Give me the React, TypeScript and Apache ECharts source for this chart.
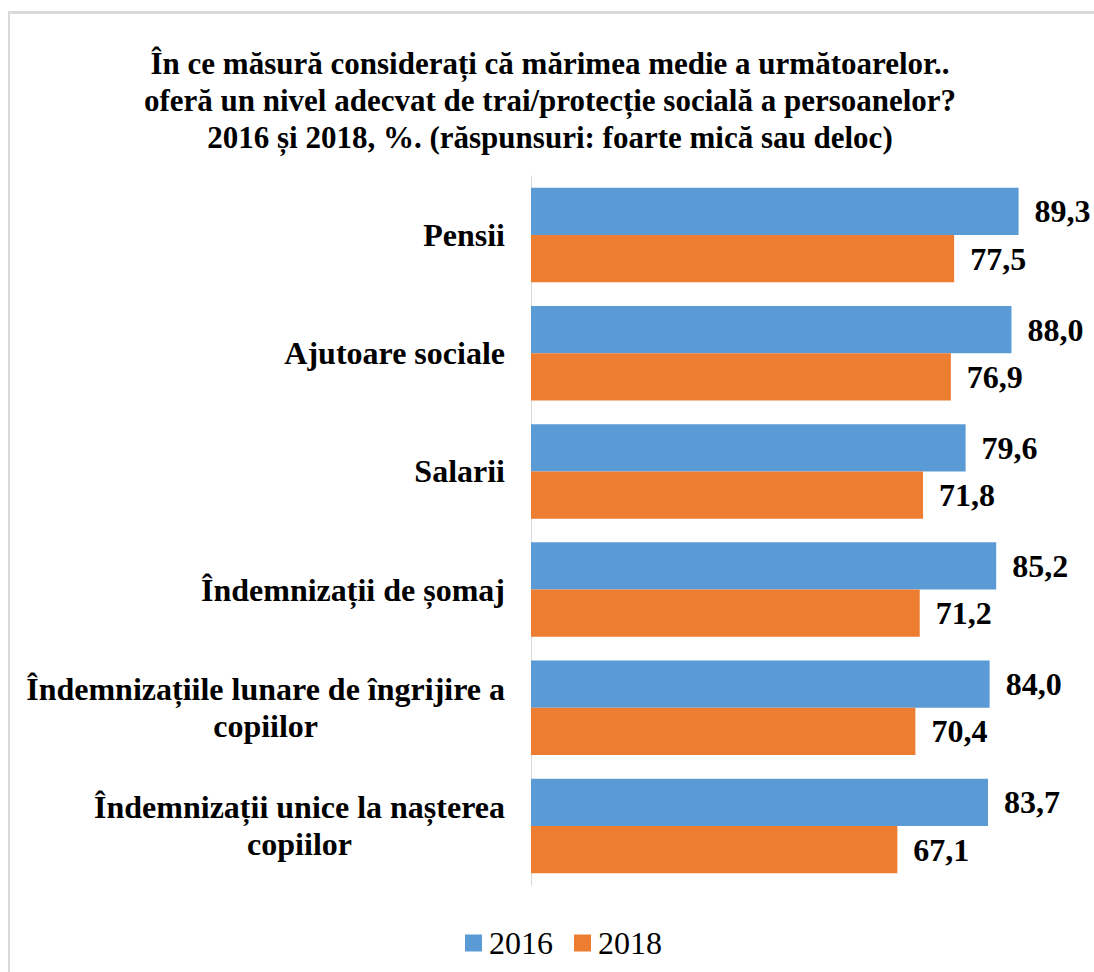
import React, { useEffect, useRef } from "react";
import * as echarts from "echarts";

const TITLE_LINES = [
  "În ce măsură considerați că mărimea medie a următoarelor..",
  "oferă un nivel adecvat de trai/protecție socială a persoanelor?",
  "2016 și 2018, %. (răspunsuri: foarte mică sau deloc)",
];

const categories = [
  "Pensii",
  "Ajutoare sociale",
  "Salarii",
  "Îndemnizații de șomaj",
  "Îndemnizațiile lunare de îngrijire a copiilor",
  "Îndemnizații unice la nașterea copiilor",
];

const values2016 = [89.3, 88.0, 79.6, 85.2, 84.0, 83.7];
const values2018 = [77.5, 76.9, 71.8, 71.2, 70.4, 67.1];

const seriesNames = ["2016", "2018"];
const seriesColors = ["#5B9BD5", "#ED7D31"];

const FONT = '"Liberation Serif", "Times New Roman", serif';

export default function App() {
  const ref = useRef<HTMLDivElement>(null);

  useEffect(() => {
    if (!ref.current) return;
    const chart = echarts.init(ref.current, null, { renderer: "svg" });

    const wrap = (v: string) => {
      const txt = v.length > 28 ? v.replace(/ copiilor$/, "\ncopiilor") : v;
      return txt
        .split("\n")
        .map((l) => `{a|${l}}`)
        .join("\n");
    };

    const valueLabel = {
      show: true,
      position: "right",
      distance: 16,
      fontFamily: FONT,
      fontWeight: "bold",
      fontSize: 32,
      color: "#000",
      formatter: (p: any) => Number(p.value).toFixed(1).replace(".", ","),
    };

    chart.setOption({
      animation: false,
      backgroundColor: "#fff",
      title: {
        text: TITLE_LINES.join("\n"),
        left: 545,
        top: 40,
        textAlign: "center",
        textStyle: {
          fontFamily: FONT,
          fontWeight: "bold",
          fontSize: 31,
          lineHeight: 37,
          color: "#000",
          align: "center",
        },
      },
      graphic: [
        { type: "rect", shape: { x: 8, y: 11, width: 2, height: 1000 }, style: { fill: "#d9d9d9" } },
        { type: "rect", shape: { x: 8, y: 11, width: 2000, height: 3 }, style: { fill: "#d9d9d9" } },
      ],
      legend: {
        data: seriesNames,
        left: 460,
        top: 922,
        icon: "rect",
        itemWidth: 17,
        itemHeight: 17,
        itemGap: 21,
        textStyle: {
          fontFamily: FONT,
          fontSize: 32,
          color: "#000",
          padding: [0, 0, 0, 2],
        },
      },
      grid: {
        left: 531,
        top: 176,
        width: 546,
        height: 709,
        containLabel: false,
      },
      xAxis: {
        type: "value",
        min: 0,
        max: 100,
        show: false,
        splitLine: { show: false },
      },
      yAxis: {
        type: "category",
        data: categories,
        inverse: true,
        axisTick: { show: false },
        axisLine: { show: true, lineStyle: { color: "#d9d9d9", width: 1 } },
        axisLabel: {
          margin: 26,
          formatter: wrap,
          rich: {
            a: {
              fontFamily: FONT,
              fontWeight: "bold",
              fontSize: 32,
              lineHeight: 37,
              color: "#000",
              align: "center",
            },
          },
        },
      },
      series: [
        {
          name: seriesNames[0],
          type: "bar",
          data: values2016,
          barGap: "0%",
          barCategoryGap: "20%",
          itemStyle: { color: seriesColors[0] },
          label: valueLabel,
        },
        {
          name: seriesNames[1],
          type: "bar",
          data: values2018,
          barGap: "0%",
          barCategoryGap: "20%",
          itemStyle: { color: seriesColors[1] },
          label: valueLabel,
        },
      ],
    });

    return () => chart.dispose();
  }, []);

  return (
    <div
      ref={ref}
      style={{ position: "absolute", left: 0, top: 0, width: 1094, height: 972 }}
    />
  );
}
